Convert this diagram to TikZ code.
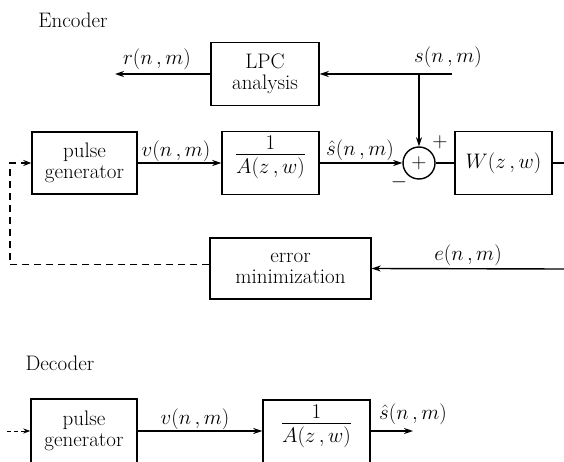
\RequirePackage{fix-cm}
\documentclass[tikz,border=0pt]{standalone}
\usepackage{amsmath}
\usetikzlibrary{arrows.meta}
\newcommand{\tfn}{\dfrac{\raisebox{-4pt}{$1$}}{A(z\,,w)}}
\tikzset{
  every node/.style={font=\fontsize{21}{23}\selectfont},
  blk/.style={draw, line width=1.4pt, rectangle, inner sep=0pt, align=center},
  sumc/.style={draw, line width=1.4pt, circle, inner sep=0pt, minimum size=32pt},
  lbl/.style={inner sep=0pt},
  frc/.style={inner sep=0pt, anchor=base},
  conn/.style={line width=1.4pt},
  arr/.style={line width=1.4pt, -{Stealth[length=9pt,width=6pt]}},
  dsh/.style={line width=1.3pt, dash pattern=on 7pt off 5pt, -{Stealth[length=8pt,width=6pt]}},
}
\begin{document}
\begin{tikzpicture}[x=1pt,y=-1pt]
\useasboundingbox (0,0) rectangle (564,462);
\clip (0,0) rectangle (564,462);
% ---------- Encoder ----------
\node[lbl] (enc) at (73,20) {Encoder};
\node[blk, minimum width=108pt, minimum height=63pt] (lpc) at (265,74) {LPC\\[-2pt]analysis};
\coordinate (rout) at (115,74);
\draw[arr] (lpc.west) -- (rout);
\node[lbl] (rlab) at (157,59) {$r(n\,,m)$};
\coordinate (sin) at (452,74);
\coordinate (sj) at (419,74);
\draw[arr] (sin) -- (lpc.east);
\node[lbl] (slab) at (448,57) {$s(n\,,m)$};

\node[blk, minimum width=105pt, minimum height=62pt] (pulse) at (84.5,163) {pulse\\[-2pt]generator};
\node[blk, minimum width=97pt, minimum height=63pt] (afil) at (270.5,163) {};
\node[frc] (afrac) at (270.5,159.5) {$\tfn$};
\draw[arr] (pulse.east) -- (afil.west);
\node[lbl] (vlab) at (176,151) {$v(n\,,m)$};

\node[sumc] (sum) at (419,163) {$+$};
\draw[arr] (sj) -- (sum.north);
\draw[arr] (afil.east) -- (sum.west);
\node[lbl] (shlab) at (360,150) {$\hat{s}(n\,,m)$};
\node[lbl] (plus) at (440,142) {$+$};
\node[lbl] (minus) at (399,182) {$-$};

\node[blk, minimum width=97pt, minimum height=63pt] (wfil) at (503.5,163) {$W(z\,,w)$};
\draw[conn] (sum.east) -- (wfil.west);
\coordinate (wout) at (564,163);
\draw[conn] (wfil.east) -- (wout);

\node[blk, minimum width=161pt, minimum height=61pt] (err) at (290.5,268.5) {error\\[-2pt]minimization};
\coordinate (ein) at (564,269);
\draw[arr] (ein) -- (err.east);
\node[lbl] (elab) at (468,255) {$e(n\,,m)$};
\coordinate (dc) at (10,264.5);
\draw[dsh] ([yshift=4pt]err.west) -- (dc) |- (pulse.west);

% ---------- Decoder ----------
\node[lbl] (dec) at (60,363) {Decoder};
\node[blk, minimum width=106pt, minimum height=72pt] (dpulse) at (84,435) {};
\node[lbl, align=center] (dptxt) at (84,431) {pulse\\[-2pt]generator};
\coordinate (din) at (7,431);
\draw[line width=1pt, dash pattern=on 4pt off 3pt, -{Stealth[length=7pt,width=5pt]}] (din) -- ([yshift=4pt]dpulse.west);
\node[blk, minimum width=107pt, minimum height=72pt] (dafil) at (316.5,436) {};
\node[frc] (dafrac) at (316.5,428.5) {$\tfn$};
\draw[arr] ([yshift=4pt]dpulse.east) -- ([yshift=5pt]dafil.west);
\node[lbl] (dvlab) at (195,419) {$v(n\,,m)$};
\coordinate (dout) at (413,431);
\draw[arr] ([yshift=5pt]dafil.east) -- (dout);
\node[lbl] (dshlab) at (413,414) {$\hat{s}(n\,,m)$};
\end{tikzpicture}
\end{document}
